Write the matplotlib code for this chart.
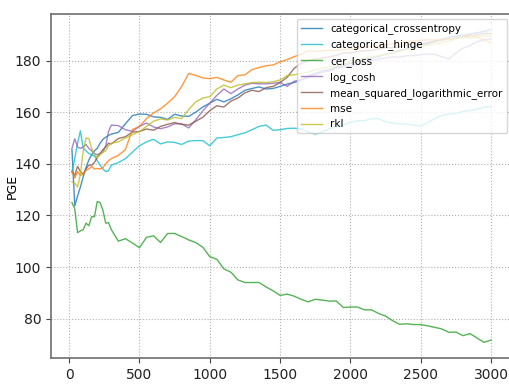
import matplotlib
matplotlib.use("Agg")
import matplotlib.pyplot as plt

traces = [20, 40, 60, 80, 100, 120, 140, 160, 180, 200, 220, 240, 260, 280, 300,
          350, 400, 450, 500, 550, 600, 650, 700, 750, 800, 850, 900, 950, 1000,
          1050, 1100, 1150, 1200, 1250, 1300, 1350, 1400, 1450, 1500, 1550, 1600,
          1650, 1700, 1750, 1800, 1850, 1900, 1950, 2000, 2050, 2100, 2150, 2200,
          2250, 2300, 2350, 2400, 2450, 2500, 2550, 2600, 2650, 2700, 2750, 2800,
          2850, 2900, 2950, 3000]

categorical_crossentropy = [145.5, 123.7, 127.5, 131, 135, 138.5, 141.5, 143.5, 145, 146, 148, 149.5, 150.3, 151, 151.5,
                            152.2, 155.5, 158.7, 159.3, 159.2, 158.2, 158, 157.2, 159.2, 158.5, 158.4, 160, 162, 163.5,
                            165, 164, 165.2, 166.7, 168.5, 169.2, 169.8, 169, 169.2, 170, 170.9, 171.5,
                            172.5, 174, 175, 176, 176.5, 177.5, 178, 179, 179.5, 180.5, 181, 181.5,
                            182.5, 183, 184, 184.5, 185.5, 186, 186.5, 187.5, 188.3, 189, 189.5, 189.8,
                            190.3, 190.8, 191.3, 192]

categorical_hinge = [137, 142, 148, 152.8, 146, 145, 144, 143.5, 143, 141.2, 139.5, 138, 137, 137.3, 139.5,
                     140.5, 142, 144.5, 147, 148.5, 149.5, 147.7, 148.5, 148.3, 147.5, 148.8, 149, 149, 147,
                     150, 150.2, 150.5, 151.3, 152, 153.2, 154.5, 155, 153, 153.2, 153.7, 153.8,
                     153.5, 152.3, 151.5, 152.3, 153.5, 154.6, 155, 156, 156.7, 156.7, 157.5, 157.5,
                     156.3, 155.8, 155.5, 155.4, 155, 154.6, 156, 157.5, 158.8, 159.3, 159.5, 160.3,
                     160.6, 161.2, 161.9, 162.2]

cer_loss = [125.0, 122.5, 113.3, 114, 114.5, 117, 116, 119.5, 119.5, 125.4, 125, 122, 117, 117.2, 114.5,
            110, 111, 109.3, 107.5, 111.5, 112.1, 109.5, 113, 113, 111.8, 110.5, 109.5, 107.7, 104,
            103, 99.3, 98, 95, 94, 94, 94, 92.3, 90.8, 89, 89.5, 88.7,
            87.5, 86.5, 87.5, 87.2, 86.8, 86.8, 84.3, 84.5, 84.5, 83.4, 83.4, 82,
            81, 79.2, 77.8, 78, 77.7, 77.7, 77.2, 76.6, 76, 74.7, 74.8, 73.4,
            74.2, 72.5, 70.8, 71.7]

log_cosh = [146, 149.7, 146.5, 146, 146.5, 147.5, 146, 145, 144, 143.5, 144, 144.5, 147, 152.5, 155,
            154.8, 153.2, 152.6, 154.5, 155.8, 154.3, 153.6, 154.3, 155.5, 155.5, 153.9, 157, 160.5, 163.5,
            166.5, 169, 167.2, 169, 170.5, 171.2, 171, 171, 171.2, 171.6, 170, 172,
            172.5, 173.5, 174.5, 175.5, 176, 177, 177.5, 178, 178.5, 179.5, 180, 180.6,
            181, 181.5, 181.3, 181.9, 181.9, 182.3, 182.6, 182.4, 181.5, 180.6, 183, 184.8,
            185.8, 187.3, 188, 188.4]

mean_squared_logarithmic_error = [137, 135.5, 139, 137, 136, 138, 139.5, 139.5, 140.5, 142.5, 144, 145.5, 146.5, 148, 147.7,
                                  149.8, 150.5, 152.3, 152.5, 153.5, 153, 154.5, 155.3, 156, 155.3, 155, 156.5, 158, 160.6,
                                  162.5, 162, 164.3, 165.5, 167.5, 168.5, 168, 169.5, 170, 171.5, 173.5, 177,
                                  179, 180, 180.5, 181, 181.5, 182, 183, 183, 183.5, 183.8, 184, 184.5,
                                  185, 185, 185.5, 186, 186.5, 186.3, 187, 187.5, 188, 188.3, 188.8, 189.2,
                                  189.5, 190, 190.5, 190.5]

mse = [137, 134.5, 137, 135.5, 136, 137.5, 138, 139, 138, 138.2, 138, 138.5, 140, 141.2, 142,
       143.3, 145.5, 153.3, 154.5, 157.5, 159.7, 161.3, 163.5, 166, 170, 175, 174.3, 173.3, 173,
       173.5, 172.5, 171.6, 174.2, 174.5, 176.5, 177.3, 178, 178.3, 179.5, 180.4, 181.5,
       182.5, 183.8, 183.5, 183.8, 184, 184, 184.2, 184.5, 184.8, 185.2, 185.4, 185.8,
       186.1, 186.5, 187, 187.3, 187.6, 187.9, 188, 188, 188.2, 188.4, 188.6, 189.2,
       190, 189, 188, 186.8]

rkl = [133, 132.5, 131, 136, 145, 150, 149.8, 146, 143.5, 142.5, 143.5, 144.5, 145, 147, 148,
       148.5, 150, 151.3, 152.5, 154.5, 156.5, 157.4, 157, 158, 157.5, 161, 164, 165.5, 166,
       169, 170.5, 169.5, 170.5, 171, 171.5, 171.6, 171.5, 171.8, 172.5, 174.2, 174.5,
       175, 175.5, 176.5, 177, 177.5, 178, 178.5, 179.5, 180, 181, 181.5, 182,
       182.3, 183, 183.5, 184.3, 184.8, 185.5, 186, 186.5, 187, 187.5, 188.5, 189,
       188.7, 189.2, 189.7, 189.5]

series = [
    ("categorical_crossentropy", categorical_crossentropy, "#1f77b4"),
    ("categorical_hinge", categorical_hinge, "#17becf"),
    ("cer_loss", cer_loss, "#2ca02c"),
    ("log_cosh", log_cosh, "#9467bd"),
    ("mean_squared_logarithmic_error", mean_squared_logarithmic_error, "#8c564b"),
    ("mse", mse, "#ff7f0e"),
    ("rkl", rkl, "#bcbd22"),
]

fig = plt.figure(figsize=(5.10, 3.87), dpi=100)
ax = fig.add_axes([51 / 510, 29 / 387, 461 / 510, 344 / 387])

for name, vals, color in series:
    ax.plot(traces, vals, color=color, lw=1.0, alpha=0.8, label=name)

ax.grid(True, linestyle=":", color="#b0b0b0", linewidth=0.8)
ax.set_xticks([0, 500, 1000, 1500, 2000, 2500, 3000])
ax.set_yticks([80, 100, 120, 140, 160, 180])
ax.set_xlabel("# Traces")
ax.set_ylabel("PGE", fontsize=9)
ax.yaxis.set_label_coords(-0.07, 0.5)
for sp in ax.spines.values():
    sp.set_color("#6e6e6e")
    sp.set_linewidth(1.2)
ax.tick_params(colors="#444444", labelcolor="#222222")
ax.legend(loc="upper right", fontsize=7.5)

fig.savefig("out.png", dpi=100)
